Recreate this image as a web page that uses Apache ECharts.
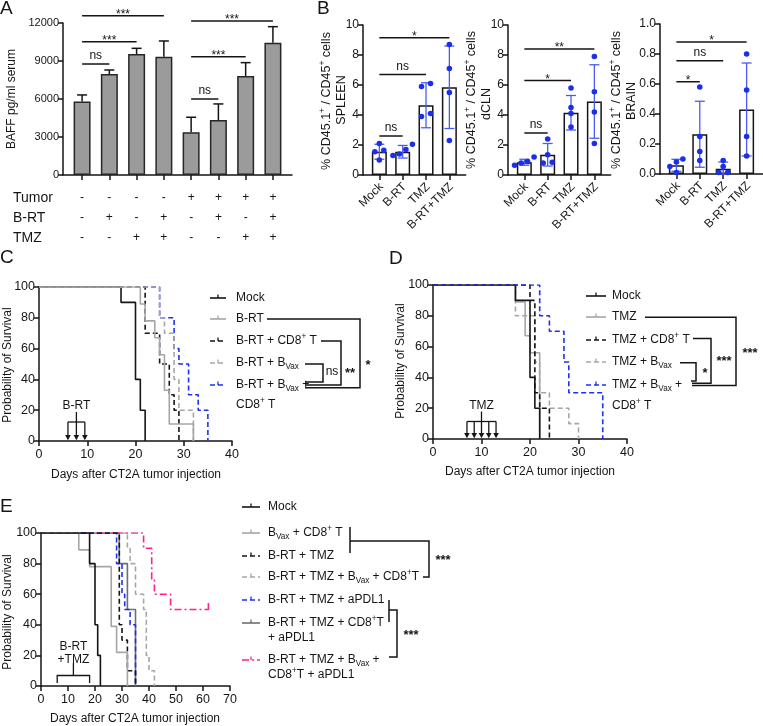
<!DOCTYPE html>
<html><head><meta charset="utf-8">
<script src="https://cdn.jsdelivr.net/npm/echarts@6/dist/echarts.min.js"></script>
<style>html,body{margin:0;padding:0;background:#fff}#c{width:763px;height:726px}</style>
</head><body><div id="c"></div>
<script>
// ================= DATA =================
// Panel A
const aGroups = [0, 1, 2, 3, 4, 5, 6, 7];
const aBaffMean = [5800, 7970, 9550, 9340, 3370, 4340, 7820, 10450];
const aBaffSD = [520, 320, 450, 1240, 1190, 1270, 1050, 1260];
const aTumorRow = ['-', '-', '-', '-', '+', '+', '+', '+'];
const aBrtRow = ['-', '+', '-', '+', '-', '+', '-', '+'];
const aTmzRow = ['-', '-', '+', '+', '-', '-', '+', '+'];
const aRowNames = ['Tumor', 'B-RT', 'TMZ'];
const aSig = [[0, 3, 12576, '***'], [0, 2, 10524, '***'], [0, 1, 8763, 'ns'], [4, 7, 12158, '***'], [4, 6, 9340, '***'], [4, 5, 6000, 'ns']];

// Panel B
const bGroups = ['Mock', 'B-RT', 'TMZ', 'B-RT+TMZ'];
const spleenMean = [1.55, 1.55, 4.65, 5.85];
const spleenSD = [0.5, 0.42, 1.5, 2.75];
const spleenDots = [[2.1, 1.65, 1.55, 1.0], [2.05, 1.7, 1.4, 1.3], [6.1, 5.9, 4.1, 3.9], [8.7, 7.1, 5.5, 2.3]];
const dclnMean = [0.85, 1.35, 4.15, 4.9];
const dclnSD = [0.2, 0.75, 1.15, 2.45];
const dclnDots = [[1.2, 0.9, 0.8, 0.65], [2.4, 1.35, 0.85, 0.8], [5.8, 4.5, 4.1, 3.2], [7.9, 5.55, 4.2, 2.1]];
const brainMean = [0.058, 0.265, 0.035, 0.43];
const brainSD = [0.04, 0.22, 0.045, 0.31];
const brainDots = [[0.1, 0.08, 0.05, 0.01], [0.58, 0.25, 0.15, 0.09], [0.09, 0.05, 0.01, 0.01], [0.8, 0.56, 0.25, 0.12]];
const spleenSig = [[0, 3, 9.15, '*'], [0, 2, 6.7, 'ns'], [0, 1, 2.6, 'ns']];
const dclnSig = [[0, 3, 8.4, '**'], [0, 2, 6.3, '*'], [0, 1, 2.8, 'ns']];
const brainSig = [[0, 3, 0.88, '*'], [0, 2, 0.755, 'ns'], [0, 1, 0.615, '*']];

// Panel C survival (day, % surviving)
const cMock = [[0, 100], [17, 90], [20, 40], [21, 20], [22, 0]];
const cBRT = [[0, 100], [21, 89], [22, 78], [24, 67], [25, 56], [26, 33], [27, 11], [32, 0]];
const cBRTCD8 = [[0, 100], [22, 70], [25, 50], [27, 30], [28, 20], [29, 0]];
const cBRTBVax = [[0, 100], [25, 80], [26, 70], [28, 40], [29, 20], [32, 0]];
const cBRTBVaxCD8 = [[0, 100], [25, 80], [28, 60], [29, 50], [31, 30], [33, 20], [35, 0]];
const cTreatDays = [6, 7.75, 9.5];

// Panel D survival
const dMock = [[0, 100], [17, 90], [20, 40], [21, 20], [22, 0]];
const dTMZ = [[0, 100], [17, 89], [19, 67], [20, 56], [22, 0]];
const dTMZCD8 = [[0, 100], [20, 90], [21, 30], [22, 20], [24, 0]];
const dTMZBVax = [[0, 100], [17, 80], [21, 50], [22, 30], [24, 20], [28, 10], [30, 0]];
const dTMZBVaxCD8 = [[0, 100], [22, 80], [24, 70], [27, 50], [28, 30], [35, 0]];
const dTreatDays = [7, 8.5, 10, 11.5, 13];

// Panel E survival
const eMock = [[0, 100], [18, 80], [20, 40], [21, 20], [22, 0]];
const eBVaxCD8 = [[0, 100], [14, 89], [18, 78], [26, 39], [28, 22], [32, 0]];
const eBRTTMZ = [[0, 100], [29, 40], [30, 30], [32, 10], [35, 0]];
const eBRTTMZBVaxCD8 = [[0, 100], [32, 90], [33, 80], [35, 60], [38, 50], [39, 20], [40, 10], [42, 0]];
const eBRTTMZaPDL1 = [[0, 100], [28, 80], [30, 60], [31, 50], [33, 40], [35, 0]];
const eBRTTMZCD8aPDL1 = [[0, 100], [29, 80], [32, 50], [35, 0]];
const eBRTTMZBVaxCD8aPDL1 = [[0, 100], [38, 90], [41, 70], [42, 60], [48, 50], [62, 50]];
const eTreatSpan = [6, 18];

// Legend texts
const cLegendText = [['Mock'], ['B-RT'], ['B-RT + CD8', {sup: '+'}, ' T'], ['B-RT + B', {sub: 'Vax'}], ['B-RT + B', {sub: 'Vax'}, ' +']];
const cLegendCont = ['CD8', {sup: '+'}, ' T'];
const dLegendText = [['Mock'], ['TMZ'], ['TMZ + CD8', {sup: '+'}, ' T'], ['TMZ + B', {sub: 'Vax'}], ['TMZ + B', {sub: 'Vax'}, ' +']];
const dLegendCont = ['CD8', {sup: '+'}, ' T'];
const eLegendText = [['Mock'], ['B', {sub: 'Vax'}, ' + CD8', {sup: '+'}, ' T'], ['B-RT + TMZ'], ['B-RT + TMZ + B', {sub: 'Vax'}, ' + CD8', {sup: '+'}, 'T'], ['B-RT + TMZ + aPDL1'], ['B-RT + TMZ + CD8', {sup: '+'}, 'T'], ['B-RT + TMZ + B', {sub: 'Vax'}, ' +']];
const eLegendCont1 = ['+ aPDL1'];
const eLegendCont2 = ['CD8', {sup: '+'}, 'T + aPDL1'];

// ================= STYLE / HELPERS =================
const FONT = '"Liberation Sans", Arial, Helvetica, sans-serif';
const INK = '#151515';
const DOT = '#1b2fe8';
const ERR = '#4a5cf2';
const ST = {
  black: {color: '#151515', dash: 'solid'},
  gray: {color: '#a6a6a6', dash: 'solid'},
  blackDash: {color: '#151515', dash: [5, 3]},
  grayDash: {color: '#a6a6a6', dash: [5, 3]},
  blueDash: {color: '#1f2ff0', dash: [5, 3]},
  darkGray: {color: '#6e6e6e', dash: 'solid'},
  pink: {color: '#ff2090', dash: [7, 3, 2, 3]}
};
const mctx = document.createElement('canvas').getContext('2d');
function textW(s, size, weight) { mctx.font = (weight || 'normal') + ' ' + size + 'px ' + FONT; return mctx.measureText(s).width; }
function richText(parts, x, y, opt) {
  opt = opt || {};
  const size = opt.size || 12, color = opt.color || INK, weight = opt.weight || 'normal';
  const kids = []; let cx = 0;
  parts.forEach(p => {
    if (typeof p === 'string') p = {t: p};
    const isSup = p.sup !== undefined, isSub = p.sub !== undefined;
    const txt = isSup ? p.sup : (isSub ? p.sub : p.t);
    const fs = (isSup || isSub) ? size * 0.68 : size;
    const dy = isSup ? -size * 0.32 : (isSub ? size * 0.32 : 0);
    kids.push({type: 'text', x: cx, y: dy, silent: true,
      style: {text: txt, fontSize: fs, fontFamily: FONT, fontWeight: weight, fill: color, align: 'left', verticalAlign: 'middle'}});
    cx += textW(txt, fs, weight);
  });
  const shift = opt.align === 'center' ? -cx / 2 : (opt.align === 'right' ? -cx : 0);
  kids.forEach(k => { k.x += shift; });
  return {type: 'group', x: x, y: y, rotation: opt.rotation || 0, silent: true, children: kids};
}
function seg(x1, y1, x2, y2, color, w, dash) {
  return {type: 'line', silent: true, shape: {x1, y1, x2, y2}, style: {stroke: color || INK, lineWidth: w || 1.5, lineDash: dash || null}};
}
function poly(points, w) {
  return {type: 'polyline', silent: true, shape: {points}, style: {stroke: INK, lineWidth: w || 1.5, fill: null}};
}
function starText(t, x, y) {
  const isStar = t.indexOf('*') >= 0;
  return {type: 'text', x: x, y: isStar ? y + 3 : y, silent: true,
    style: {text: t, fontSize: isStar ? 13 : 12, fontWeight: isStar ? 'bold' : 'normal', fontFamily: FONT, fill: INK, align: 'center', verticalAlign: 'middle'}};
}

// ================= GRIDS & AXES =================
const grids = [
  {left: 63, top: 23, width: 229, height: 152},
  {left: 363, top: 25, width: 102.7, height: 150},
  {left: 508, top: 25, width: 102.7, height: 150},
  {left: 660, top: 24, width: 103.4, height: 150},
  {left: 39, top: 287, width: 193, height: 154},
  {left: 433, top: 285, width: 194, height: 154},
  {left: 41, top: 533, width: 189, height: 153}
];
const axLine = {show: true, onZero: false, lineStyle: {color: INK, width: 1.5}};
const axTick = {show: true, length: 5, lineStyle: {color: INK, width: 1.5}};

const xAxes = [];
const yAxes = [];
// A
xAxes.push({gridIndex: 0, type: 'value', min: -0.7, max: 7.7, axisLine: axLine,
  axisTick: Object.assign({}, axTick, {customValues: aGroups}),
  axisLabel: {customValues: aGroups, color: INK, fontFamily: FONT, fontSize: 12, lineHeight: 20, margin: 13,
    formatter: v => { const i = Math.round(v); return aTumorRow[i] + '\n' + aBrtRow[i] + '\n' + aTmzRow[i]; }},
  splitLine: {show: false}});
yAxes.push({gridIndex: 0, type: 'value', min: 0, max: 12000, interval: 3000, axisLine: axLine, axisTick: axTick,
  axisLabel: {color: INK, fontFamily: FONT, fontSize: 11, margin: 4, formatter: v => String(v)}, splitLine: {show: false}});
// B
const bIdx = [0, 1, 2, 3];
[1, 2, 3].forEach(g => {
  xAxes.push({gridIndex: g, type: 'value', min: -0.7, max: 3.7, axisLine: axLine,
    axisTick: Object.assign({}, axTick, {customValues: bIdx}),
    axisLabel: {show: false},
    splitLine: {show: false}});
  const brain = g === 3;
  yAxes.push({gridIndex: g, type: 'value', min: 0, max: brain ? 1 : 10, interval: brain ? 0.2 : 2, axisLine: axLine, axisTick: axTick,
    axisLabel: {color: INK, fontFamily: FONT, fontSize: 12, margin: 4, formatter: v => brain ? v.toFixed(1) : String(v)},
    splitLine: {show: false}});
});
// C D E
[[4, 40], [5, 40], [6, 70]].forEach(([g, mx]) => {
  xAxes.push({gridIndex: g, type: 'value', min: 0, max: mx, interval: 10, axisLine: axLine, axisTick: axTick,
    axisLabel: {color: INK, fontFamily: FONT, fontSize: 12.5, margin: 7}, splitLine: {show: false}});
  yAxes.push({gridIndex: g, type: 'value', min: 0, max: 100, interval: 20, axisLine: axLine, axisTick: axTick,
    axisLabel: {color: INK, fontFamily: FONT, fontSize: 12.5, margin: 4}, splitLine: {show: false}});
});

// ================= SERIES =================
const series = [];
function sigSeries(g, list) {
  return {type: 'custom', xAxisIndex: g, yAxisIndex: g, clip: false, silent: true, z: 8,
    data: list.map(d => [d[0], d[2], d[1]]),
    renderItem(params, api) {
      const d = list[params.dataIndex];
      const p1 = api.coord([d[0], d[2]]), p2 = api.coord([d[1], d[2]]);
      const isStar = d[3].indexOf('*') >= 0;
      return {type: 'group', children: [
        seg(p1[0], p1[1], p2[0], p2[1], INK, 1.5),
        {type: 'text', x: (p1[0] + p2[0]) / 2, y: isStar ? p1[1] - 1 : p1[1] - 2,
          style: {text: d[3], fontSize: 12, fontFamily: FONT, fill: INK, align: 'center', verticalAlign: isStar ? 'middle' : 'bottom'}}
      ]};
    }};
}
// A bars
series.push({type: 'bar', xAxisIndex: 0, yAxisIndex: 0, barWidth: 17, silent: true, z: 2,
  data: aGroups.map((g, i) => [g, aBaffMean[i]]),
  itemStyle: {color: '#9b9b9b', borderColor: '#262626', borderWidth: 1.5}});
series.push({type: 'custom', xAxisIndex: 0, yAxisIndex: 0, clip: false, silent: true, z: 3,
  data: aGroups.map((g, i) => [g, aBaffMean[i], aBaffSD[i]]),
  renderItem(params, api) {
    const i = api.value(0), m = api.value(1), s = api.value(2);
    const p0 = api.coord([i, m]), p1 = api.coord([i, m + s]);
    return {type: 'group', children: [seg(p0[0], p0[1], p1[0], p1[1], INK, 1.5), seg(p1[0] - 5, p1[1], p1[0] + 5, p1[1], INK, 1.5)]};
  }});
series.push(sigSeries(0, aSig));

// B panels
function bPanel(g, mean, sd, dots, sig) {
  series.push({type: 'bar', xAxisIndex: g, yAxisIndex: g, barWidth: 15, silent: true, z: 2,
    data: bIdx.map(i => [i, mean[i]]),
    itemStyle: {color: '#ffffff', borderColor: INK, borderWidth: 1.5}});
  series.push({type: 'custom', xAxisIndex: g, yAxisIndex: g, clip: false, silent: true, z: 4,
    data: bIdx.map(i => [i, mean[i], sd[i]]),
    renderItem(params, api) {
      const i = api.value(0), m = api.value(1), s = api.value(2);
      const lo = api.coord([i, Math.max(0, m - s)]), hi = api.coord([i, m + s]);
      return {type: 'group', children: [
        seg(lo[0], lo[1], hi[0], hi[1], ERR, 1.3),
        seg(hi[0] - 5, hi[1], hi[0] + 5, hi[1], ERR, 1.3),
        seg(lo[0] - 5, lo[1], lo[0] + 5, lo[1], ERR, 1.3)
      ]};
    }});
  series.push({type: 'custom', xAxisIndex: g, yAxisIndex: g, clip: false, silent: true, z: 6,
    data: bIdx.map(i => [i, dots[i][0]]),
    renderItem(params, api) {
      const i = params.dataIndex;
      const vals = dots[i].slice().sort((a, b) => b - a);
      const pts = vals.map(v => api.coord([i, v]));
      const rows = [];
      pts.forEach(p => {
        const last = rows[rows.length - 1];
        if (last && Math.abs(p[1] - last[last.length - 1][1]) < 5.5) last.push(p); else rows.push([p]);
      });
      const ch = [];
      rows.forEach(r => {
        const n = r.length;
        const step = n > 2 ? 6.5 : 9;
        r.forEach((p, k) => ch.push({type: 'circle', shape: {cx: p[0] + ((n - 1) / 2 - k) * step, cy: p[1], r: 2.8}, style: {fill: DOT}}));
      });
      return {type: 'group', children: ch};
    }});
  // rotated category labels placed through the axis scale
  series.push({type: 'custom', xAxisIndex: g, yAxisIndex: g, clip: false, silent: true, z: 10,
    data: bIdx.map(i => [i, 0]),
    renderItem(params, api) {
      const p = api.coord([api.value(0), 0]);
      return {type: 'text', x: p[0] + 2, y: p[1] + 10, rotation: Math.PI / 4,
        style: {text: bGroups[params.dataIndex], fontSize: 12, fontFamily: FONT, fill: INK, align: 'right', verticalAlign: 'middle'}};
    }});
  series.push(sigSeries(g, sig));
}
bPanel(1, spleenMean, spleenSD, spleenDots, spleenSig);
bPanel(2, dclnMean, dclnSD, dclnDots, dclnSig);
bPanel(3, brainMean, brainSD, brainDots, brainSig);

// Survival
function survLine(g, data, st, z, extra) {
  return Object.assign({type: 'line', xAxisIndex: g, yAxisIndex: g, data: data, step: 'end', symbol: 'none', showSymbol: false,
    silent: true, z: z, lineStyle: {color: st.color, width: 1.6, type: st.dash}, itemStyle: {color: st.color}}, extra || {});
}
series.push(survLine(4, cMock, ST.black, 3));
series.push(survLine(4, cBRTBVaxCD8, ST.blueDash, 4));
series.push(survLine(4, cBRTCD8, ST.blackDash, 5));
series.push(survLine(4, cBRTBVax, ST.grayDash, 6));
series.push(survLine(4, cBRT, ST.gray, 7));

series.push(survLine(5, dTMZ, ST.gray, 3));
series.push(survLine(5, dTMZBVax, ST.grayDash, 4));
series.push(survLine(5, dMock, ST.black, 5));
series.push(survLine(5, dTMZCD8, ST.blackDash, 6));
series.push(survLine(5, dTMZBVaxCD8, ST.blueDash, 7));

series.push(survLine(6, eBRTTMZCD8aPDL1, ST.darkGray, 3));
series.push(survLine(6, eBRTTMZBVaxCD8aPDL1.map((p, i, arr) => i === arr.length - 1 ? {value: p, symbol: 'rect', symbolSize: [1.6, 7], symbolOffset: [0, -3]} : p), ST.pink, 4, {showSymbol: true}));
series.push(survLine(6, eBRTTMZBVaxCD8, ST.grayDash, 5));
series.push(survLine(6, eBRTTMZaPDL1, ST.blueDash, 6));
series.push(survLine(6, eBRTTMZ, ST.blackDash, 7));
series.push(survLine(6, eBVaxCD8, ST.gray, 8));
series.push(survLine(6, eMock, ST.black, 9));

// Treatment arrows (C, D)
function arrowSeries(g, days, label, gap) {
  return {type: 'custom', xAxisIndex: g, yAxisIndex: g, clip: false, silent: true, z: 10, data: [[days[0], 0]],
    renderItem(params, api) {
      const pts = days.map(d => api.coord([d, 0]));
      const ay = pts[0][1], by = ay - gap;
      const x0 = pts[0][0], x1 = pts[pts.length - 1][0], xc = (x0 + x1) / 2;
      const ch = [seg(x0, by, x1, by, INK, 1.3)];
      pts.forEach(p => {
        ch.push(seg(p[0], by, p[0], ay - 5, INK, 1.3));
        ch.push({type: 'polygon', shape: {points: [[p[0] - 2.8, ay - 6], [p[0] + 2.8, ay - 6], [p[0], ay - 0.8]]}, style: {fill: INK}});
      });
      ch.push(seg(xc, by, xc, by - 10, INK, 1.3));
      ch.push({type: 'text', x: xc, y: by - 16, style: {text: label, fontSize: 12, fontFamily: FONT, fill: INK, align: 'center', verticalAlign: 'middle'}});
      return {type: 'group', children: ch};
    }};
}
series.push(arrowSeries(4, cTreatDays, 'B-RT', 19));
series.push(arrowSeries(5, dTreatDays, 'TMZ', 17.5));
// Treatment brace (E)
series.push({type: 'custom', xAxisIndex: 6, yAxisIndex: 6, clip: false, silent: true, z: 10, data: [[eTreatSpan[0], 0]],
  renderItem(params, api) {
    const p0 = api.coord([eTreatSpan[0], 0]), p1 = api.coord([eTreatSpan[1], 0]);
    const ay = p0[1], hy = ay - 10.5, xc = (p0[0] + p1[0]) / 2;
    return {type: 'group', children: [
      poly([[p0[0], ay - 3], [p0[0], hy], [p1[0], hy], [p1[0], ay - 3]], 1.3),
      seg(xc, hy, xc, hy - 12.5, INK, 1.3),
      {type: 'text', x: xc, y: ay - 39, style: {text: 'B-RT', fontSize: 12, fontFamily: FONT, fill: INK, align: 'center', verticalAlign: 'middle'}},
      {type: 'text', x: xc, y: ay - 26, style: {text: '+TMZ', fontSize: 12, fontFamily: FONT, fill: INK, align: 'center', verticalAlign: 'middle'}}
    ]};
  }});

// ================= GRAPHIC (titles, legends) =================
const G = [];
function letter(t, x, y) {
  G.push({type: 'text', x, y, silent: true, style: {text: t, fontSize: 19, fontFamily: FONT, fill: INK, align: 'left', verticalAlign: 'middle'}});
}
letter('A', 0, 9); letter('B', 317, 9); letter('C', 0, 258); letter('D', 389, 259); letter('E', 0, 507);

// A
aRowNames.forEach((n, k) => G.push(richText([n], 13, [198, 218, 238][k], {size: 14})));
G.push(richText(['BAFF pg/ml serum'], 12, 99, {rotation: Math.PI / 2, align: 'center', size: 12}));
// B titles
const yTitle = ['% CD45.1', {sup: '+'}, ' / CD45', {sup: '+'}, ' cells'];
G.push(richText(yTitle, 327, 101, {rotation: Math.PI / 2, align: 'center', size: 12.5}));
G.push(richText(['SPLEEN'], 342, 100, {rotation: Math.PI / 2, align: 'center', size: 12.5}));
G.push(richText(yTitle, 472, 100, {rotation: Math.PI / 2, align: 'center', size: 12.5}));
G.push(richText(['dCLN'], 487, 104, {rotation: Math.PI / 2, align: 'center', size: 12.5}));
G.push(richText(yTitle, 617, 100, {rotation: Math.PI / 2, align: 'center', size: 12.5}));
G.push(richText(['BRAIN'], 632, 101, {rotation: Math.PI / 2, align: 'center', size: 12.5}));
// Survival titles
G.push(richText(['Probability of Survival'], 8, 365, {rotation: Math.PI / 2, align: 'center', size: 12}));
G.push(richText(['Probability of Survival'], 401, 361, {rotation: Math.PI / 2, align: 'center', size: 12}));
G.push(richText(['Probability of Survival'], 8, 612, {rotation: Math.PI / 2, align: 'center', size: 12}));
G.push(richText(['Days after CT2A tumor injection'], 136, 475, {align: 'center', size: 12}));
G.push(richText(['Days after CT2A tumor injection'], 530, 472, {align: 'center', size: 12}));
G.push(richText(['Days after CT2A tumor injection'], 135, 719, {align: 'center', size: 12}));

function legendSym(x, y, len, st) {
  G.push(seg(x, y, x + len, y, st.color, 1.6, st.dash === 'solid' ? null : st.dash));
  G.push(seg(x + len / 2, y, x + len / 2, y - 3.5, st.color, 1.3));
}
// C legend
const cStyles = [ST.black, ST.gray, ST.blackDash, ST.grayDash, ST.blueDash];
const cRows = [298, 319, 341, 363, 385];
cLegendText.forEach((t, k) => { legendSym(210, cRows[k], 16, cStyles[k]); G.push(richText(t, 236, cRows[k], {size: 12})); });
G.push(richText(cLegendCont, 236, 405, {size: 12}));
G.push(poly([[267, 319], [360, 319], [360, 387.7], [305, 387.7]]));
G.push(poly([[321, 341], [341, 341], [341, 385], [305, 385]]));
G.push(poly([[305, 364], [323, 364], [323, 382], [305, 382]]));
G.push(starText('*', 368, 362)); G.push(starText('**', 350, 370)); G.push(starText('ns', 332, 372));

// D legend
const dStyles = [ST.black, ST.gray, ST.blackDash, ST.grayDash, ST.blueDash];
const dRows = [296, 317, 340, 362, 385];
dLegendText.forEach((t, k) => { legendSym(586, dRows[k], 20, dStyles[k]); G.push(richText(t, 612, dRows[k], {size: 12})); });
G.push(richText(dLegendCont, 612, 406, {size: 12}));
G.push(poly([[645, 317.3], [736, 317.3], [736, 385.5], [692, 385.5]]));
G.push(poly([[693, 338.5], [711, 338.5], [711, 383.3], [692, 383.3]]));
G.push(poly([[680, 362.7], [696, 362.7], [696, 381], [691, 381]]));
G.push(starText('***', 750, 350)); G.push(starText('***', 724, 358)); G.push(starText('*', 705, 370));

// E legend
const eStyles = [ST.black, ST.gray, ST.blackDash, ST.grayDash, ST.blueDash, ST.darkGray, ST.pink];
const eRows = [507, 533, 556, 577, 600, 623, 660];
eLegendText.forEach((t, k) => { legendSym(242, eRows[k], 18, eStyles[k]); G.push(richText(t, 268, eRows[k], {size: 12})); });
G.push(richText(eLegendCont1, 268, 638, {size: 12}));
G.push(richText(eLegendCont2, 268, 675, {size: 12}));
G.push(poly([[350, 527], [350, 553]]));
G.push(poly([[350, 541], [429, 541], [429, 577], [423, 577]]));
G.push(poly([[389, 600], [389, 622]]));
G.push(poly([[389, 610], [397, 610], [397, 657], [389, 657]]));
G.push(starText('***', 443, 557)); G.push(starText('***', 411, 632));

// ================= CHART =================
const chart = echarts.init(document.getElementById('c'), null, {renderer: 'canvas'});
chart.setOption({
  animation: false,
  backgroundColor: '#ffffff',
  textStyle: {fontFamily: FONT, color: INK},
  grid: grids,
  xAxis: xAxes,
  yAxis: yAxes,
  series: series,
  graphic: {elements: G}
});
</script></body></html>
